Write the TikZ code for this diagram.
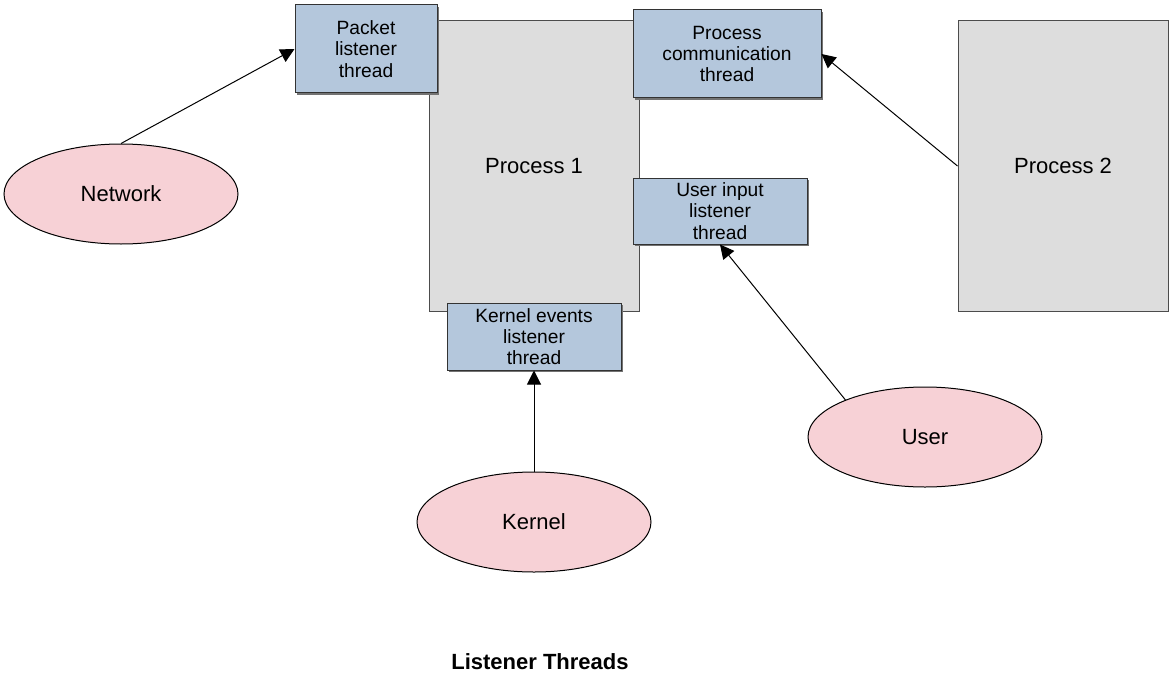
\documentclass[tikz,border=0pt]{standalone}
\usepackage{fontspec}
\setmainfont{Liberation Sans}
\usetikzlibrary{arrows.meta,shapes.geometric,shadows}
\definecolor{procgray}{HTML}{DDDDDD}
\definecolor{threadblue}{HTML}{B4C7DC}
\definecolor{sourcepink}{HTML}{F7D1D6}
\tikzset{%
  >={Triangle[width=7pt,length=7pt]},
  % Specifications for style of nodes:
         process/.style = {rectangle, draw=black!70, fill=procgray, line width=0.5pt,
                           minimum width=105pt, minimum height=145pt,
                           inner sep=0pt, font=\fontsize{11}{13}\selectfont},
      threadbox/.style = {rectangle, draw=black!80, fill=threadblue, line width=0.5pt,
                           inner sep=0pt, align=center,
                           drop shadow={shadow xshift=0.8pt, shadow yshift=-0.8pt, fill=black!55, opacity=1},
                           font=\fontsize{9.6}{10.6}\selectfont},
          source/.style = {ellipse, draw=black, fill=sourcepink, line width=0.5pt,
                           minimum width=117pt, minimum height=50pt,
                           inner sep=0pt, font=\fontsize{11}{13}\selectfont},
}

\begin{document}
\begin{tikzpicture}[x=0.5pt, y=-0.5pt, line width=0.5pt]
\useasboundingbox (0,0) rectangle (1172,674);

\node (P1)     [process] at (534,166)          {Process 1};

\node (P2)     [process] at (1063,166)         {Process 2};

\node (Packet) [threadbox, minimum width=71pt, minimum height=44pt] at (366,49)
               {Packet\\listener\\thread};

\node (Comm)   [threadbox, minimum width=94pt, minimum height=44pt] at (727,54)
               {Process\\communication\\thread};

\node (UserIn) [threadbox, minimum width=87pt, minimum height=33pt] at (720,211)
               {User input\\listener\\thread};

\node (KernEv) [threadbox, minimum width=87pt, minimum height=33.5pt] at (534,336.5)
               {Kernel events\\listener\\thread};

\node (Network) [source] at (121,194)          {Network};

\node (Kernel)  [source] at (534,522)          {Kernel};

\node (User)    [source] at (925,437)          {User};

\node (Title) at (540,662) {\fontsize{11}{13}\selectfont\bfseries Listener Threads};

\draw[->]             (Network.north) -- (Packet.west);
\draw[->]             (P2.west) -- (Comm.east);
\draw[->]             (User.155) -- (UserIn.south);
\draw[->]             (Kernel.north) -- (KernEv.south);
\end{tikzpicture}
\end{document}
